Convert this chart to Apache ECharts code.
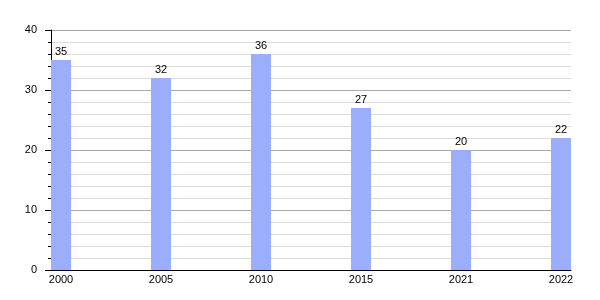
<!DOCTYPE html>
<html>
<head>
<meta charset="utf-8">
<script src="https://cdn.jsdelivr.net/npm/echarts@6/dist/echarts.min.js"></script>
<style>html,body{margin:0;padding:0;background:#fff}#c{width:600px;height:300px}</style>
</head>
<body>
<div id="c"></div>
<script>
const years = ['2000', '2005', '2010', '2015', '2021', '2022'];
const values = [35, 32, 36, 27, 20, 22];
const yTicks = [0, 10, 20, 30, 40];

const chart = echarts.init(document.getElementById('c'), null, {renderer: 'canvas'});
const font = 'Liberation Sans, Arial, sans-serif';
chart.setOption({
  animation: false,
  textStyle: {fontFamily: font},
  grid: {left: 51, right: 29, top: 30, bottom: 30},
  xAxis: {
    type: 'value',
    min: -0.1,
    max: 5.1,
    axisLine: {show: true, onZero: false, lineStyle: {color: '#000', width: 1}},
    axisTick: {show: false},
    splitLine: {show: false},
    axisLabel: {
      customValues: years.map((y, i) => i),
      formatter: v => years[Math.round(v)],
      color: '#000', fontSize: 11, fontFamily: font, margin: 4
    }
  },
  yAxis: {
    type: 'value',
    min: yTicks[0],
    max: yTicks[yTicks.length - 1],
    interval: 10,
    axisLine: {show: true, onZero: false, lineStyle: {color: '#000', width: 1}},
    axisTick: {show: true, length: 6, lineStyle: {color: '#000'}},
    minorTick: {show: true, splitNumber: 5, length: 3, lineStyle: {color: '#000'}},
    splitLine: {show: true, lineStyle: {color: '#aaaaaa', width: 1}},
    minorSplitLine: {show: true, lineStyle: {color: '#dddddd', width: 1}},
    axisLabel: {color: '#000', fontSize: 11, fontFamily: font, margin: 14}
  },
  series: [{
    type: 'bar',
    barWidth: 20,
    data: values.map((v, i) => [i, v]),
    itemStyle: {color: '#9aaefc'},
    label: {show: true, position: 'top', distance: 3, color: '#000', fontSize: 11, fontFamily: font, formatter: p => p.value[1]}
  }]
});
</script>
</body>
</html>
